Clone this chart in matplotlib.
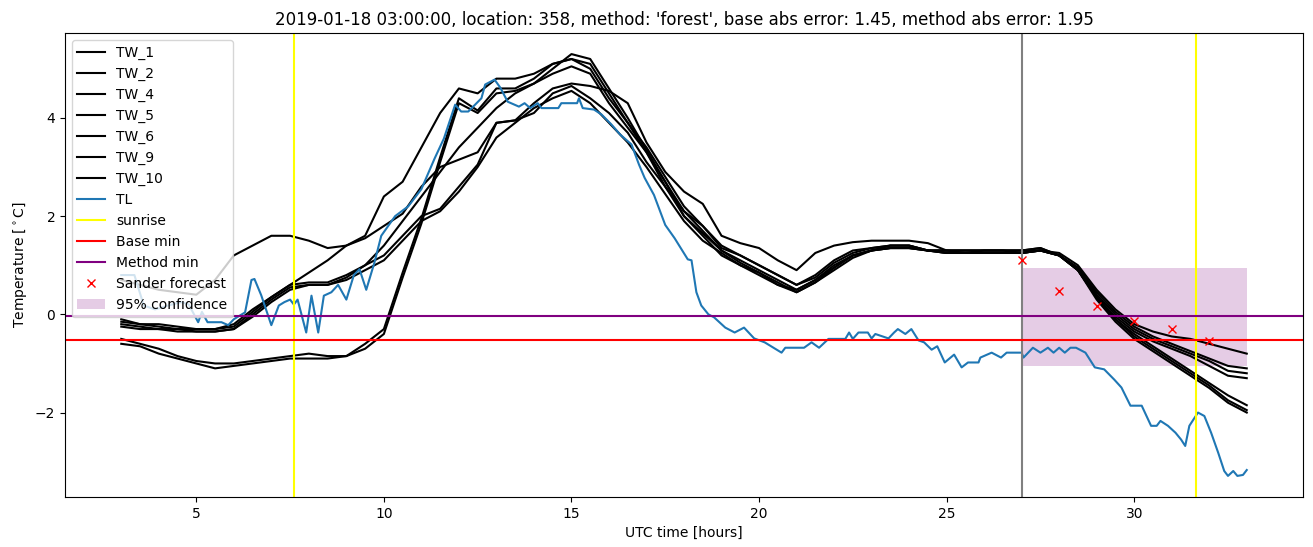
import numpy as np
import matplotlib
matplotlib.use('Agg')
import matplotlib.pyplot as plt

# half-hourly grid for the TW sensors, 03:00 to 33:00
tw_hours = np.arange(3.0, 33.01, 0.5)

TW_1 = [0.7, 0.6, 0.5, 0.45, 0.4, 0.7, 1.2, 1.4, 1.6, 1.6, 1.5, 1.35, 1.4, 1.6,
        2.4, 2.7, 3.4, 4.1, 4.6, 4.5, 4.8, 4.8, 4.9, 5.1, 5.2, 5.0,
        4.4, 3.9, 3.4, 2.8, 2.2, 1.8, 1.35, 1.2, 1.0, 0.8, 0.6,
        0.8, 1.1, 1.3, 1.35, 1.4, 1.4, 1.3, 1.3, 1.3, 1.3, 1.3, 1.3, 1.3,
        1.25, 1.0, 0.5, 0.1, -0.2, -0.35, -0.45, -0.5, -0.6, -0.7, -0.8]
TW_2 = [-0.1, -0.2, -0.2, -0.25, -0.3, -0.3, -0.2, 0.1, 0.35, 0.6, 0.85, 1.1, 1.4, 1.55,
        1.8, 2.05, 2.6, 3.0, 3.15, 3.3, 3.9, 3.95, 4.3, 4.6, 4.7, 4.65,
        4.55, 4.3, 3.5, 2.9, 2.5, 2.25, 1.6, 1.45, 1.35, 1.1, 0.9,
        1.25, 1.4, 1.47, 1.5, 1.5, 1.5, 1.45, 1.3, 1.3, 1.3, 1.3, 1.3, 1.35,
        1.2, 0.95, 0.45, 0.05, -0.25, -0.45, -0.6, -0.75, -0.9, -1.05, -1.1]
TW_4 = [-0.2, -0.25, -0.3, -0.3, -0.35, -0.35, -0.3, 0.0, 0.3, 0.55, 0.6, 0.6, 0.75, 1.0,
        1.2, 1.6, 2.0, 2.15, 2.6, 3.05, 3.9, 3.95, 4.1, 4.5, 4.65, 4.4,
        4.1, 3.7, 3.1, 2.6, 2.1, 1.8, 1.4, 1.2, 1.0, 0.8, 0.6,
        0.75, 1.05, 1.25, 1.35, 1.4, 1.4, 1.3, 1.3, 1.25, 1.3, 1.3, 1.25, 1.3,
        1.2, 0.95, 0.4, 0.0, -0.3, -0.5, -0.65, -0.8, -0.95, -1.15, -1.2]
TW_5 = [-0.15, -0.2, -0.25, -0.3, -0.3, -0.3, -0.25, 0.05, 0.35, 0.6, 0.65, 0.65, 0.8, 1.0,
        1.4, 1.9, 2.4, 2.9, 3.4, 3.8, 4.2, 4.5, 4.7, 4.9, 5.05, 4.9,
        4.3, 3.8, 3.3, 2.7, 2.0, 1.65, 1.3, 1.1, 0.9, 0.7, 0.5,
        0.7, 1.0, 1.2, 1.3, 1.35, 1.35, 1.3, 1.25, 1.25, 1.25, 1.25, 1.25, 1.3,
        1.2, 0.9, 0.35, -0.05, -0.35, -0.55, -0.7, -0.85, -1.05, -1.25, -1.3]
TW_6 = [-0.25, -0.3, -0.3, -0.35, -0.35, -0.35, -0.3, -0.05, 0.25, 0.5, 0.6, 0.6, 0.7, 0.9,
        1.1, 1.5, 1.9, 2.1, 2.5, 3.0, 3.6, 3.9, 4.2, 4.4, 4.55, 4.3,
        3.9, 3.5, 3.0, 2.45, 1.9, 1.5, 1.25, 1.0, 0.85, 0.65, 0.45,
        0.65, 0.95, 1.2, 1.3, 1.35, 1.35, 1.3, 1.25, 1.25, 1.25, 1.25, 1.25, 1.3,
        1.2, 0.9, 0.35, -0.1, -0.4, -0.65, -0.9, -1.15, -1.4, -1.65, -1.85]
TW_9 = [-0.5, -0.6, -0.7, -0.85, -0.95, -1.0, -1.0, -0.95, -0.9, -0.85, -0.8, -0.85, -0.85, -0.6,
        -0.3, 0.85, 1.95, 3.2, 4.4, 4.15, 4.6, 4.6, 4.8, 5.1, 5.2, 5.1,
        4.5, 3.9, 3.3, 2.6, 2.0, 1.6, 1.2, 1.0, 0.8, 0.6, 0.45,
        0.65, 0.9, 1.15, 1.3, 1.35, 1.35, 1.3, 1.25, 1.25, 1.25, 1.25, 1.25, 1.3,
        1.2, 0.9, 0.35, -0.1, -0.45, -0.7, -0.95, -1.2, -1.45, -1.75, -1.95]
TW_10 = [-0.6, -0.65, -0.8, -0.9, -1.0, -1.1, -1.05, -1.0, -0.95, -0.9, -0.9, -0.9, -0.85, -0.7,
         -0.4, 0.75, 1.85, 3.1, 4.3, 4.1, 4.5, 4.55, 4.7, 5.0, 5.3, 5.2,
         4.6, 4.0, 3.35, 2.7, 2.1, 1.7, 1.3, 1.05, 0.85, 0.6, 0.5,
         0.7, 0.95, 1.2, 1.3, 1.4, 1.4, 1.3, 1.3, 1.3, 1.3, 1.3, 1.3, 1.35,
         1.2, 0.9, 0.3, -0.15, -0.5, -0.75, -1.0, -1.25, -1.5, -1.8, -2.0]

tw_names = ['TW_1', 'TW_2', 'TW_4', 'TW_5', 'TW_6', 'TW_9', 'TW_10']
tw_series = [TW_1, TW_2, TW_4, TW_5, TW_6, TW_9, TW_10]

# TL (air temperature) read at its turning points
tl_hours = [3.0, 3.35, 3.45, 3.6, 3.9, 4.25, 4.6, 4.8, 5.05, 5.15, 5.3, 5.67, 5.85, 6.0,
            6.3, 6.47, 6.55, 6.73, 7.0, 7.2, 7.35, 7.5, 7.6, 7.7, 7.93, 8.07, 8.25, 8.4,
            8.6, 8.78, 9.0, 9.2, 9.35, 9.53, 9.75, 9.93, 10.3, 10.65, 11.0, 11.35, 11.6,
            11.9, 12.06, 12.25, 12.6, 12.7, 12.95, 13.1, 13.3, 13.6, 13.75, 13.9, 14.1,
            14.2, 14.65, 14.73, 15.15, 15.2, 15.3, 15.6, 15.8, 16.06, 16.3, 16.6, 16.8,
            16.95, 17.2, 17.5, 17.75, 18.1, 18.2, 18.33, 18.46, 18.65, 18.8, 19.1, 19.35,
            19.6, 19.87, 20.15, 20.6, 20.7, 21.2, 21.4, 21.6, 21.85, 22.3, 22.4, 22.5,
            22.65, 22.9, 23.0, 23.1, 23.45, 23.6, 23.7, 23.9, 24.06, 24.25, 24.4, 24.6,
            24.75, 24.95, 25.2, 25.4, 25.57, 25.85, 25.9, 26.2, 26.45, 26.6, 27.0, 27.05,
            27.3, 27.5, 27.7, 27.85, 28.0, 28.15, 28.3, 28.45, 28.7, 28.95, 29.2, 29.47,
            29.66, 29.9, 30.2, 30.45, 30.6, 30.7, 30.9, 31.1, 31.25, 31.36, 31.47, 31.7,
            31.87, 32.05, 32.24, 32.4, 32.5, 32.64, 32.75, 32.9, 33.0]
tl_temp = [0.8, 0.8, 0.55, 0.18, 0.1, 0.18, 0.25, 0.2, -0.16, 0.05, -0.16, -0.16, -0.22, -0.1,
           0.04, 0.7, 0.72, 0.39, -0.22, 0.18, 0.25, 0.3, 0.2, 0.3, -0.37, 0.38, -0.37, 0.38,
           0.45, 0.6, 0.3, 0.8, 0.92, 0.5, 1.06, 1.6, 2.0, 2.2, 2.55, 3.17, 3.58,
           4.27, 4.13, 4.13, 4.4, 4.68, 4.78, 4.62, 4.33, 4.23, 4.3, 4.2, 4.3,
           4.2, 4.2, 4.3, 4.3, 4.4, 4.2, 4.17, 4.07, 3.87, 3.66, 3.46, 3.05,
           2.78, 2.43, 1.82, 1.55, 1.12, 1.1, 0.45, 0.18, 0.0, -0.06, -0.27, -0.37,
           -0.27, -0.49, -0.57, -0.78, -0.68, -0.68, -0.57, -0.68, -0.5, -0.5, -0.37, -0.5,
           -0.37, -0.37, -0.49, -0.4, -0.49, -0.37, -0.3, -0.4, -0.3, -0.53, -0.57, -0.72,
           -0.65, -0.98, -0.82, -1.08, -0.98, -0.98, -0.88, -0.78, -0.88, -0.78, -0.78, -0.88,
           -0.68, -0.78, -0.68, -0.78, -0.68, -0.78, -0.68, -0.68, -0.78, -1.08, -1.12, -1.33,
           -1.49, -1.86, -1.86, -2.27, -2.27, -2.17, -2.27, -2.41, -2.55, -2.68, -2.27, -2.0,
           -2.07, -2.41, -2.82, -3.19, -3.29, -3.19, -3.29, -3.27, -3.17]

sunrise_hours = [7.6, 31.65]
forecast_start = 27.0
base_min = -0.53
method_min = -0.04

sander_hours = [27, 28, 29, 30, 31, 32]
sander_temp = [1.1, 0.47, 0.16, -0.13, -0.3, -0.54]

conf_hours = [27, 33]
conf_low = [-1.05, -1.05]
conf_high = [0.95, 0.95]

assert all(len(s) == len(tw_hours) for s in tw_series)
assert len(tl_hours) == len(tl_temp)

fig, ax = plt.subplots(figsize=(13.13, 5.47), dpi=100)

for name, vals in zip(tw_names, tw_series):
    ax.plot(tw_hours, vals, color='black', label=name)
ax.plot(tl_hours, tl_temp, color='tab:blue', label='TL')

for i, h in enumerate(sunrise_hours):
    ax.axvline(h, color='yellow', label='sunrise' if i == 0 else None)
ax.axvline(forecast_start, color='gray')
ax.axhline(base_min, color='red', label='Base min')
ax.axhline(method_min, color='purple', label='Method min')

ax.plot(sander_hours, sander_temp, 'x', color='red', label='Sander forecast')
ax.fill_between(conf_hours, conf_low, conf_high, color='purple', alpha=0.2,
                linewidth=0, label='95% confidence')

ax.set_xlabel('UTC time [hours]')
ax.set_ylabel(r'Temperature [$^\circ$C]')
ax.set_title("2019-01-18 03:00:00, location: 358, method: 'forest', "
             "base abs error: 1.45, method abs error: 1.95")
ax.legend(loc='upper left')

fig.subplots_adjust(left=0.0495, right=0.9924, top=0.9397, bottom=0.0914)
fig.savefig('out.png')
